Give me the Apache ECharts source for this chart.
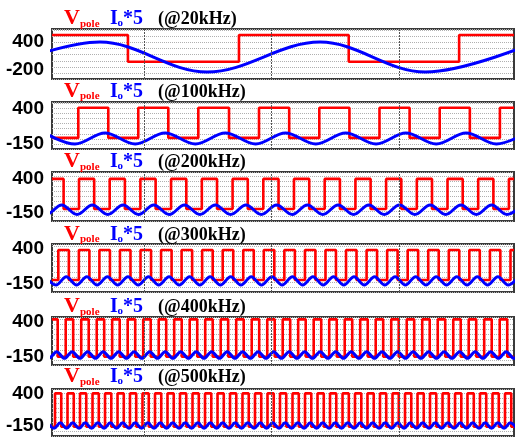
<!DOCTYPE html>
<html><head><meta charset="utf-8">
<script src="https://cdn.jsdelivr.net/npm/echarts@6/dist/echarts.min.js"></script>
<style>html,body{margin:0;padding:0;background:#fff}#c{width:515px;height:437px}</style>
</head><body><div id="c"></div><script>
// ---- data (time in µs-like units) ----
const freqLabels = ['(@20kHz)', '(@100kHz)', '(@200kHz)', '(@300kHz)', '(@400kHz)', '(@500kHz)'];
const yLabelValues = [[400, -200], [400, -150], [400, -150], [400, -150], [400, -150], [400, -150]];
const tMin = 5.6, tMax = 78.0;
const vGridTimes = [20, 40, 60];

// Vpole square waves: level at start + switching instants
const redHigh = [550, 410, 390, 385, 443, 405];
const redLow = [-20, -65, -90, -90, -149, -162];
const redStartHigh = [true, false, true, false, true, false];
const redEdges1 = [17.5, 34.9, 52.1, 69.4];
const redEdges2 = [9.72, 14.42, 19.12, 23.83, 28.53, 33.34, 38.04, 42.77, 47.49, 52.21, 56.92, 61.64, 66.36, 71.08, 75.79];
const redEdges3 = [7.42, 9.83, 12.21, 14.64, 17.02, 19.45, 21.84, 24.26, 26.65, 29.08, 31.46, 33.90, 36.28, 38.71, 41.10, 43.52, 45.91, 48.33, 50.72, 53.15, 55.53, 57.96, 60.34, 62.77, 65.15, 67.58, 69.96, 72.39, 74.77, 77.20];
const redEdges4 = [6.59, 8.24, 9.81, 11.46, 13.03, 14.68, 16.25, 17.90, 19.47, 21.12, 22.69, 24.34, 25.91, 27.56, 29.13, 30.78, 32.35, 34.00, 35.57, 37.22, 38.79, 40.44, 42.01, 43.66, 45.24, 46.88, 48.46, 50.10, 51.68, 53.32, 54.90, 56.54, 58.12, 59.76, 61.34, 62.98, 64.56, 66.20, 67.78, 69.42, 71.00, 72.64, 74.23, 75.86, 77.45];
const redEdges5 = [6.49, 7.75, 8.92, 10.18, 11.35, 12.61, 13.78, 15.03, 16.21, 17.46, 18.64, 19.89, 21.07, 22.32, 23.50, 24.75, 25.93, 27.18, 28.36, 29.61, 30.78, 32.04, 33.21, 34.47, 35.64, 36.90, 38.07, 39.33, 40.50, 41.75, 42.93, 44.18, 45.36, 46.61, 47.79, 49.04, 50.22, 51.47, 52.65, 53.90, 55.08, 56.33, 57.50, 58.76, 59.93, 61.19, 62.36, 63.62, 64.79, 66.05, 67.22, 68.48, 69.65, 70.90, 72.08, 73.33, 74.51, 75.76, 76.94];
const redEdges6 = [6.07, 7.05, 8.03, 9.01, 9.99, 10.97, 11.95, 12.93, 13.91, 14.89, 15.87, 16.85, 17.82, 18.80, 19.78, 20.76, 21.74, 22.72, 23.70, 24.68, 25.66, 26.64, 27.62, 28.60, 29.58, 30.56, 31.54, 32.52, 33.50, 34.48, 35.45, 36.43, 37.41, 38.39, 39.37, 40.35, 41.33, 42.31, 43.29, 44.27, 45.25, 46.23, 47.21, 48.19, 49.17, 50.15, 51.13, 52.11, 53.08, 54.07, 55.04, 56.02, 57.00, 57.98, 58.96, 59.94, 60.92, 61.90, 62.88, 63.86, 64.84, 65.82, 66.80, 67.78, 68.76, 69.74, 70.71, 71.70, 72.67, 73.65, 74.63, 75.61, 76.59, 77.57];

// Io*5 ripple: instants of alternating peaks / troughs
const bluePeak = [400, 10, -25, -38, -69, -94];
const blueTrough = [-240, -160, -177, -169, -174, -189];
const blueStartPeak = [false, true, true, true, true, true];
const blueExt1 = [-4.2, 13.1, 29.9, 47.6, 64.1, 81.4];
const blueExt2 = [4.49, 9.20, 13.91, 18.64, 23.32, 28.07, 32.76, 37.51, 42.19, 46.94, 51.63, 56.38, 61.06, 65.81, 70.50, 75.24, 79.93];
const blueExt3 = [2.31, 4.71, 7.12, 9.53, 11.93, 14.34, 16.74, 19.16, 21.55, 23.97, 26.36, 28.78, 31.19, 33.59, 36.00, 38.40, 40.81, 43.23, 45.62, 48.04, 50.44, 52.85, 55.25, 57.66, 60.06, 62.47, 64.87, 67.28, 69.68, 72.09, 74.49, 76.90, 79.30];
const blueExt4 = [4.62, 6.23, 7.84, 9.45, 11.06, 12.67, 14.28, 15.89, 17.50, 19.11, 20.72, 22.33, 23.94, 25.55, 27.16, 28.77, 30.38, 31.99, 33.60, 35.21, 36.82, 38.43, 40.05, 41.66, 43.27, 44.88, 46.49, 48.10, 49.71, 51.32, 52.93, 54.54, 56.15, 57.76, 59.37, 60.98, 62.59, 64.20, 65.81, 67.42, 69.03, 70.64, 72.25, 73.86, 75.47, 77.08, 78.69];
const blueExt5 = [3.90, 5.12, 6.33, 7.55, 8.76, 9.98, 11.19, 12.41, 13.62, 14.84, 16.05, 17.26, 18.48, 19.69, 20.91, 22.12, 23.34, 24.55, 25.77, 26.98, 28.20, 29.41, 30.62, 31.84, 33.05, 34.27, 35.48, 36.70, 37.91, 39.13, 40.34, 41.55, 42.77, 43.98, 45.20, 46.41, 47.63, 48.84, 50.06, 51.27, 52.49, 53.70, 54.91, 56.13, 57.34, 58.56, 59.77, 60.99, 62.20, 63.42, 64.63, 65.84, 67.06, 68.27, 69.49, 70.70, 71.92, 73.13, 74.35, 75.56, 76.78, 77.99, 79.21];
const blueExt6 = [4.94, 5.92, 6.90, 7.88, 8.86, 9.84, 10.82, 11.80, 12.78, 13.76, 14.73, 15.71, 16.69, 17.67, 18.65, 19.63, 20.61, 21.59, 22.57, 23.55, 24.53, 25.51, 26.49, 27.47, 28.45, 29.43, 30.41, 31.39, 32.36, 33.34, 34.32, 35.30, 36.28, 37.26, 38.24, 39.22, 40.20, 41.18, 42.16, 43.14, 44.12, 45.10, 46.08, 47.06, 48.04, 49.02, 50.00, 50.97, 51.95, 52.93, 53.91, 54.89, 55.87, 56.85, 57.83, 58.81, 59.79, 60.77, 61.75, 62.73, 63.71, 64.69, 65.67, 66.65, 67.62, 68.60, 69.58, 70.56, 71.54, 72.52, 73.50, 74.48, 75.46, 76.44, 77.42, 78.40];

const redEdges = [redEdges1, redEdges2, redEdges3, redEdges4, redEdges5, redEdges6];
const blueExt = [blueExt1, blueExt2, blueExt3, blueExt4, blueExt5, blueExt6];

// ---- layout ----
const panelTop = [29, 102, 172, 244, 317, 389];
const panelHeight = [50, 47, 49, 48, 48, 47];
const yMin = [-390, -240, -280, -280, -280, -320];
const yMax = [680, 500, 500, 480, 480, 480];
const yInterval = [130, 80, 80, 80, 80, 80];
const titleBase = [25, 97.5, 168, 240.5, 313, 383];

function squareData(edges, hi, lo, startHigh) {
  let lvl = startHigh ? hi : lo;
  const d = [[tMin, lvl]];
  edges.forEach(e => { lvl = (lvl === hi) ? lo : hi; d.push([e, lvl]); });
  d.push([tMax, lvl]);
  return d;
}
function rippleData(times, pk, tr, startPeak) {
  return times.map((t, i) => [t, ((i % 2 === 0) === startPeak) ? pk : tr]);
}

const grids = [], xAxes = [], yAxes = [], series = [], graphics = [];
for (let i = 0; i < 6; i++) {
  grids.push({ left: 52, width: 462, top: panelTop[i], height: panelHeight[i], show: true,
    borderColor: '#3a3a3a', borderWidth: 2, backgroundColor: 'transparent' });
  xAxes.push({ type: 'value', gridIndex: i, min: tMin, max: tMax, show: false });
  yAxes.push({ type: 'value', gridIndex: i, min: yMin[i], max: yMax[i], interval: yInterval[i],
    axisLine: { show: false }, axisTick: { show: false },
    axisLabel: { customValues: yLabelValues[i], color: '#000', fontFamily: 'Liberation Sans',
      fontWeight: 'bold', fontSize: 19, margin: 8 },
    splitLine: { show: true, lineStyle: { color: '#b0b0b0', type: 'dotted', width: 1 } } });
  series.push({ type: 'line', xAxisIndex: i, yAxisIndex: i, step: 'end', symbol: 'none',
    data: squareData(redEdges[i], redHigh[i], redLow[i], redStartHigh[i]),
    lineStyle: { color: '#ff0000', width: 2.6 }, z: 2, animation: false,
    markLine: { silent: true, symbol: ['none', 'none'], label: { show: false }, animation: false,
      lineStyle: { color: '#555', type: [2, 1], width: 1 },
      data: vGridTimes.map(v => ({ xAxis: v })) } });
  series.push({ type: 'line', xAxisIndex: i, yAxisIndex: i, smooth: 0.36, symbol: 'none',
    data: rippleData(blueExt[i], bluePeak[i], blueTrough[i], blueStartPeak[i]),
    lineStyle: { color: '#0000ff', width: 3 }, z: 3, animation: false });
  const B = titleBase[i];
  const txt = (text, x, y, size, color) => ({ type: 'text', x: x, y: y, silent: true,
    style: { text: text, fontFamily: 'Liberation Serif', fontWeight: 'bold', fontSize: size,
      fill: color, align: 'left', verticalAlign: 'middle' } });
  graphics.push(txt('V', 64, B - 6.6, 22, '#ff0000'));
  graphics.push(txt('pole', 80, B - 1.3, 11, '#ff0000'));
  graphics.push(txt('I', 110, B - 6, 20, '#0000ff'));
  graphics.push(txt('o', 117.5, B - 1.8, 11, '#0000ff'));
  graphics.push(txt('*5', 123, B - 6, 20, '#0000ff'));
  graphics.push(txt(freqLabels[i], 158, B - 5.4, 18, '#000'));
}

const chart = echarts.init(document.getElementById('c'), null, { renderer: 'canvas' });
chart.setOption({ animation: false, backgroundColor: '#fff', grid: grids, xAxis: xAxes, yAxis: yAxes,
  series: series, graphic: { elements: graphics } });
</script></body></html>
